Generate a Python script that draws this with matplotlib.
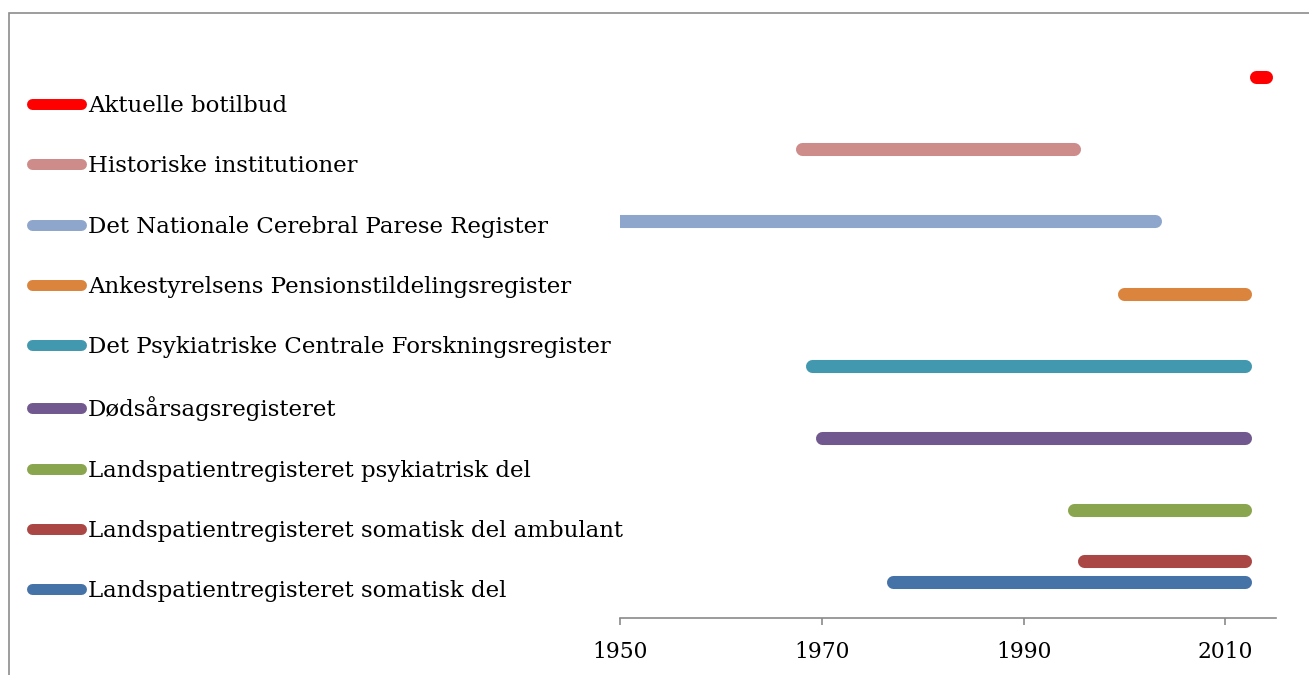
import matplotlib
matplotlib.use("Agg")
import matplotlib.pyplot as plt
from matplotlib.patches import Rectangle

# ---- data ----
series = [
    "Landspatientregisteret somatisk del",
    "Landspatientregisteret somatisk del ambulant",
    "Landspatientregisteret psykiatrisk del",
    "Dødsårsagsregisteret",
    "Det Psykiatriske Centrale Forskningsregister",
    "Ankestyrelsens Pensionstildelingsregister",
    "Det Nationale Cerebral Parese Register",
    "Historiske institutioner",
    "Aktuelle botilbud",
]
start_year = [1977, 1996, 1995, 1970, 1969, 2000, 1925, 1968, 2013]
end_year = [2012, 2012, 2012, 2012, 2012, 2012, 2003, 1995, 2014]
row_pos = [0.5, 0.8, 1.5, 2.5, 3.5, 4.5, 5.5, 6.5, 7.5]
colors = ["#4572A7", "#AA4643", "#89A54E", "#71588F", "#4198AF",
          "#DB843D", "#8EA6CB", "#CD8B8A", "#FF0000"]
x_ticks = [1950, 1970, 1990, 2010]
x_min, x_max = 1950, 2015

W, H = 1309, 675
fig = plt.figure(figsize=(W / 100, H / 100), dpi=100)
plt.rcParams["font.family"] = ["DejaVu Serif"]

ax_left, ax_right = 620.3, 1275.7
ax_bottom_px = H - 618.3
ax_h = 8 * 72.17
ax = fig.add_axes([ax_left / W, ax_bottom_px / H, (ax_right - ax_left) / W, ax_h / H])

lines = []
for name, s, e, y, c in zip(series, start_year, end_year, row_pos, colors):
    ln, = ax.plot([s, e], [y, y], color=c, lw=9.4, solid_capstyle="round", label=name)
    lines.append(ln)

ax.set_xlim(x_min, x_max)
ax.set_ylim(0, 8)
ax.set_xticks(x_ticks)
ax.set_xticklabels([str(t) for t in x_ticks], fontsize=15.7, family="DejaVu Serif")
ax.set_yticks([])
for sp in ["top", "right", "left"]:
    ax.spines[sp].set_visible(False)
ax.spines["bottom"].set_color("#8a8a8a")
ax.spines["bottom"].set_linewidth(1.2)
ax.tick_params(axis="x", direction="out", length=5, width=1.2, color="#8a8a8a", pad=11)

leg = fig.legend(lines[::-1], series[::-1], loc="upper left",
                 bbox_to_anchor=(32 / W, 1 - 95 / H), bbox_transform=fig.transFigure,
                 frameon=False, handlelength=2.15, handletextpad=0.3,
                 labelspacing=1.67, borderpad=0, borderaxespad=0,
                 prop={"family": "DejaVu Serif", "size": 16.5})
for l in leg.get_lines():
    l.set_linewidth(7.9)
    l.set_solid_capstyle("round")

fig.patches.append(Rectangle((8.7 / W, -0.1), 1.2, 1 - 12.7 / H + 0.1,
                             transform=fig.transFigure, fill=False,
                             edgecolor="#8c8c8c", lw=1.2))

fig.savefig("out.png", dpi=100)
